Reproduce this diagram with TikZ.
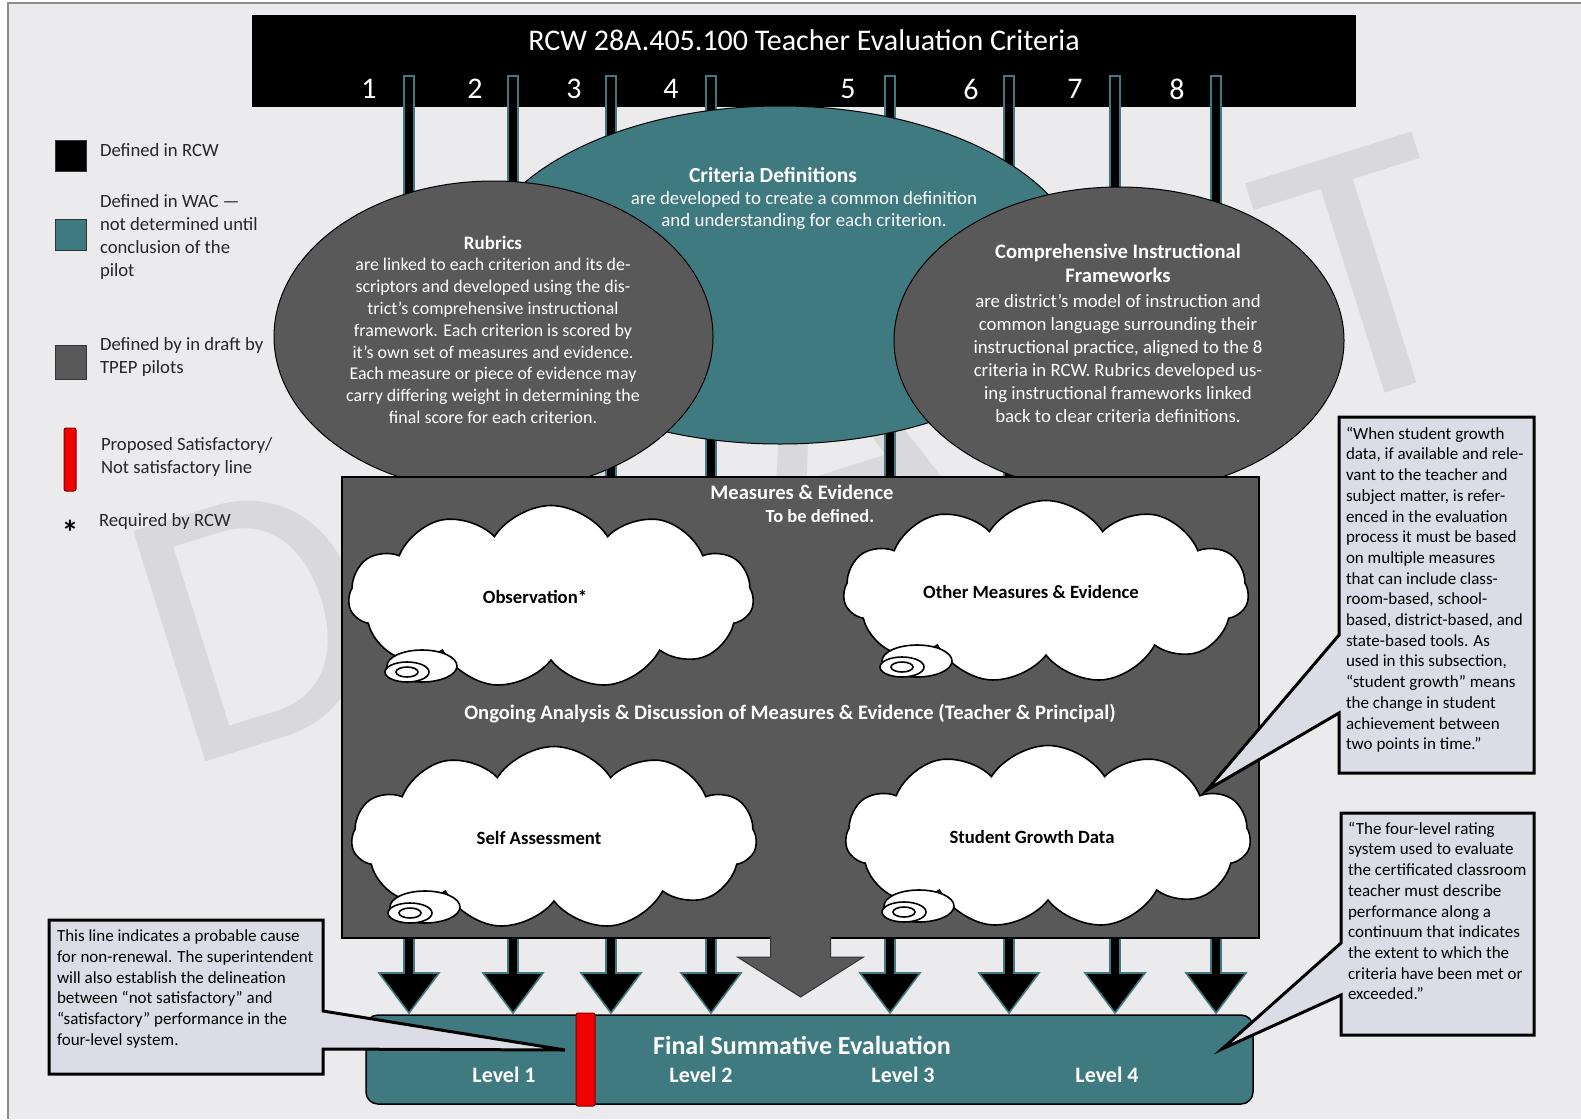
\documentclass[tikz,border=0pt]{standalone}
\usepackage{fontspec}
\setmainfont{Carlito}
\usetikzlibrary{shapes,positioning,calc}
\definecolor{pagegray}{RGB}{235,235,238}
\definecolor{waccol}{RGB}{64,122,129}
\definecolor{tpepcol}{RGB}{89,89,89}
\definecolor{notecol}{RGB}{220,220,230}
\definecolor{markcol}{RGB}{217,217,220}
\definecolor{redline}{RGB}{240,0,0}
\newcommand{\fsz}[2]{\fontsize{#1}{#2}\selectfont}

\begin{document}
\begin{tikzpicture}[x=1pt,y=-1pt,
  every node/.style={inner sep=0pt,outer sep=0pt},
  wtext/.style={text=white,align=center},
  oval/.style={ellipse,draw=black,line width=1pt},
  swatch/.style={draw=black!80,line width=1pt,minimum width=31pt,minimum height=31pt},
  keytext/.style={align=left,text=black!85,font=\fsz{18.7}{23}},
  crit/.style={fill=black,draw=waccol,line width=1.6pt},
  puff/.style={cloud,cloud puffs=11,cloud puff arc=115,aspect=2.2,draw=black,fill=white,line width=1.6pt,minimum width=405pt,minimum height=183pt},
  cloudlabel/.style={font=\fsz{18.7}{22}\bfseries},
  bubble/.style={draw=black,fill=white,line width=1.6pt},
  note/.style={fill=notecol,draw=black,line width=3pt},
  notetext/.style={anchor=north west,align=left,font=\fsz{17}{20.7}},
  wmark/.style={text=markcol,font=\fsz{376}{376},rotate=17.4},
  redbar/.style={draw=red!50!black,fill=redline,line width=1pt,rounded corners=2pt}]

\useasboundingbox (0,0) rectangle (1581,1119);
\fill[pagegray] (8,3) rectangle (1581,1119);
\draw[black!45,line width=1.5pt] (8,1119) -- (8,3) -- (1581,3);

% watermark
\foreach \ch/\px/\py in {D/256/620,R/549/528,A/837/438,F/1109/353,T/1365/273}
  \node[wmark] at (\px,\py) {\ch};

% criteria header
\node[fill=black,minimum width=1104pt,minimum height=92pt,anchor=north west] (rcw) at (252,15) {};
\node[wtext,font=\fsz{30}{36}] (rcwtitle) at (804,40) {RCW 28A.405.100 Teacher Evaluation Criteria};
\foreach \n/\lx/\bx in {1/369/409,2/475/513,3/574/611,4/671/711,5/848/890,6/971/1009,7/1075/1115,8/1177/1216} {
  \node[wtext,font=\fsz{30}{36}] (num\n) at (\lx,89) {\n};
  \coordinate (top\n) at (\bx,76);
}
\foreach \n in {1,...,8}
  \filldraw[crit] (top\n) ++(-5,0) -- ++(10,0) -- ++(0,897) -- ++(25,0) -- ++(-30,40) -- ++(-30,-40) -- ++(25,0) -- cycle;

% definitions
\node[oval,fill=waccol,minimum width=610pt,minimum height=338pt] (critdef) at (780,275) {};
\node[oval,fill=tpepcol,minimum width=439pt,minimum height=311pt] (rubrics) at (493.5,336.5) {};
\node[oval,fill=tpepcol,minimum width=450pt,minimum height=307pt] (cif) at (1119,340.5) {};

\node[wtext,font=\fsz{21.5}{24}\bfseries] (critname) at (773,175) {Criteria Definitions};
\node[wtext,font=\fsz{18.9}{22}] (critbody) at (804,211) {are developed to create a common definition\\and understanding for each criterion.};
\node[wtext,font=\fsz{19}{22}\bfseries] (rubname) at (493,243) {Rubrics};
\node[wtext,font=\fsz{17.9}{21.8}] (rubbody) at (493,341) {are linked to each criterion and its de-\\scriptors and developed using the dis-\\trict’s comprehensive instructional\\framework.  Each criterion is scored by\\it’s own set of measures and evidence.\\Each measure or piece of evidence may\\carry differing weight in determining the\\final score for each criterion.};
\node[wtext,font=\fsz{20.6}{24}\bfseries] (cifname) at (1118,263) {Comprehensive Instructional\\Frameworks};
\node[wtext,font=\fsz{18.8}{23}] (cifbody) at (1118,358) {are district’s model of instruction and\\common language surrounding their\\instructional practice, aligned to the 8\\criteria in RCW. Rubrics developed us-\\ing instructional  frameworks linked\\back to clear criteria  definitions.};

% measures and evidence
\node[draw=black,line width=1.5pt,fill=tpepcol,minimum width=917pt,minimum height=461pt,anchor=north west] (measures) at (342,477) {};
\node[wtext,font=\fsz{20.6}{24}\bfseries] (meashead) at (802,492) {Measures \& Evidence};
\node[wtext,font=\fsz{18.5}{22}\bfseries] (tbd) at (820,516) {To be defined.};

\node[puff] (obs) at (551,597) {};
\node[puff] (other) at (1046,592) {};
\node[puff] (self) at (554,838) {};
\node[puff] (growth) at (1048,837) {};
\foreach \c in {obs,other,self,growth} {
  \filldraw[bubble] ($(\c.center)+(-129,69)$) ellipse [x radius=35,y radius=16];
  \filldraw[bubble] ($(\c.center)+(-144,75)$) ellipse [x radius=22,y radius=10];
  \draw[bubble] ($(\c.center)+(-144,75)$) ellipse [x radius=11,y radius=5];
}
\node[cloudlabel] (obslabel) at ([xshift=-16pt]obs.center) {Observation*};
\node[cloudlabel] (otherlabel) at ([xshift=-15pt]other.center) {Other Measures \& Evidence};
\node[cloudlabel] (selflabel) at ([xshift=-15pt]self.center) {Self Assessment};
\node[cloudlabel] (growthlabel) at ([xshift=-16pt]growth.center) {Student Growth Data};
\node[wtext,font=\fsz{20.6}{24}\bfseries] (ongoing) at (790,714) {Ongoing Analysis \& Discussion of Measures \& Evidence (Teacher \& Principal)};

\path[fill=tpepcol,draw=black!80,line width=1pt] (measures.south) ++(-30,-2) -- ++(0,21) -- ++(-33,0) -- ++(63,40) -- ++(63,-40) -- ++(-33,0) -- ++(0,-21);

% final evaluation
\node[draw=black,line width=1.5pt,fill=waccol,rounded corners=12pt,minimum width=887pt,minimum height=89pt,anchor=north west] (final) at (366,1015) {};
\node[wtext,font=\fsz{26}{30}\bfseries] (finaltitle) at (802,1045) {Final Summative Evaluation};
\foreach \l/\lx in {1/504,2/701,3/903,4/1107}
  \node[wtext,font=\fsz{22}{26}\bfseries] (level\l) at (\lx,1075) {Level \l};
\node[redbar,minimum width=19pt,minimum height=93pt,anchor=north west] (cutline) at (576,1013) {};

% notes
\coordinate (tipgrowth) at (1207,790);
\coordinate (tipcut) at (565,1050);
\coordinate (tipfinal) at (1222,1049);
\filldraw[note] (1339,635) -- (1339,417) -- (1534,417) -- (1534,773) -- (1339,773) -- (1339,713) -- (tipgrowth) -- cycle;
\filldraw[note] (323,1011) -- (323,920) -- (49,920) -- (49,1074) -- (323,1074) -- (323,1049) -- (tipcut) -- cycle;
\filldraw[note] (1341,943) -- (1341,813) -- (1534,813) -- (1534,1035) -- (1341,1035) -- (1341,995) -- (tipfinal) -- cycle;
\node[notetext] (growthnote) at (1346,427) {“When student growth\\data, if available and rele-\\vant to the teacher and\\subject matter, is refer-\\enced in the evaluation\\process it must be based\\on multiple measures\\that can include class-\\room-based, school-\\based, district-based, and\\state-based tools.  As\\used in this subsection,\\“student growth” means\\the change in student\\achievement between\\two points in time.”};
\node[notetext] (levelnote) at (1348,822) {“The four-level rating\\system used to evaluate\\the certificated classroom\\teacher must describe\\performance along a\\continuum that indicates\\the extent to which the\\criteria have been met or\\exceeded.”};
\node[notetext] (cutnote) at (57,930) {This line indicates a probable cause\\for non-renewal. The superintendent\\will also establish the delineation\\between “not satisfactory” and\\“satisfactory” performance in the\\four-level system.};

% legend
\node[swatch,fill=black,anchor=north west] (keyrcw) at (55,140) {};
\node[keytext,right=14pt of keyrcw,yshift=5pt] (keyrcwtext) {Defined in RCW};
\node[swatch,fill=waccol,anchor=north west] (keywac) at (55,219) {};
\node[keytext,right=14pt of keywac,yshift=-3pt] (keywactext) {Defined in WAC —\\not determined until\\conclusion of the\\pilot};
\node[swatch,fill=tpepcol,minimum height=34pt,anchor=north west] (keytpep) at (55,345) {};
\node[keytext,right=14pt of keytpep,yshift=4.5pt] (keytpeptext) {Defined by in draft by\\TPEP pilots};
\node[redbar,minimum width=12pt,minimum height=63pt,anchor=north west] (keycut) at (64,428) {};
\node[keytext,right=25pt of keycut,yshift=2pt] (keycuttext) {Proposed Satisfactory/\\Not satisfactory line};
\node[font=\fsz{34}{34}\bfseries] (keystar) at (70,532) {*};
\node[keytext,anchor=west] (keystartext) at (99,522) {Required by RCW};
\end{tikzpicture}
\end{document}
